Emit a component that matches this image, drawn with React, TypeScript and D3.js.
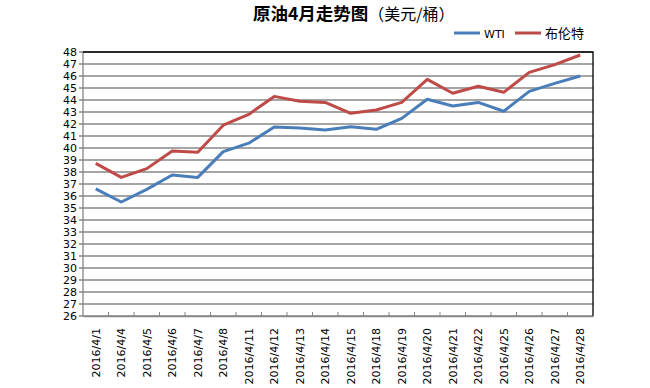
import { useEffect, useRef } from "react";
import * as d3 from "d3";

const dates = [
  "2016/4/1", "2016/4/4", "2016/4/5", "2016/4/6", "2016/4/7", "2016/4/8",
  "2016/4/11", "2016/4/12", "2016/4/13", "2016/4/14", "2016/4/15", "2016/4/18",
  "2016/4/19", "2016/4/20", "2016/4/21", "2016/4/22", "2016/4/25", "2016/4/26",
  "2016/4/27", "2016/4/28",
];
const wti = [
  36.6, 35.5, 36.55, 37.75, 37.55, 39.7, 40.4, 41.75, 41.67, 41.5,
  41.78, 41.56, 42.47, 44.06, 43.5, 43.8, 43.06, 44.72, 45.39, 46.0,
];
const brent = [
  38.72, 37.55, 38.28, 39.75, 39.64, 41.9, 42.8, 44.3, 43.9, 43.8,
  42.89, 43.17, 43.8, 45.72, 44.56, 45.14, 44.64, 46.3, 46.95, 47.75,
];
const yTicks = d3.range(26, 49);

const W = 650;
const H = 388;
const m = { left: 83, right: 57, top: 52, bottom: 72 };

const App = () => {
  const svgRef = useRef(null);

  useEffect(() => {
    const svg = d3.select(svgRef.current);
    svg.selectAll("*").remove();

    const x = d3.scaleBand().domain(dates).range([m.left, W - m.right]);
    const y = d3.scaleLinear().domain([26, 48]).range([H - m.bottom, m.top]);
    const font = "'DejaVu Sans', sans-serif";
    const cjk = "'Noto Sans CJK SC', sans-serif";

    // gridlines
    svg
      .append("g")
      .selectAll("line")
      .data(yTicks)
      .enter()
      .append("line")
      .attr("x1", m.left - 4)
      .attr("x2", W - m.right)
      .attr("y1", (d) => y(d))
      .attr("y2", (d) => y(d))
      .attr("stroke", "#878787")
      .attr("stroke-width", 1.3);

    // y axis labels
    svg
      .append("g")
      .selectAll("text")
      .data(yTicks)
      .enter()
      .append("text")
      .attr("x", m.left - 6)
      .attr("y", (d) => y(d) + 4)
      .attr("text-anchor", "end")
      .attr("font-family", font)
      .attr("font-size", 11)
      .attr("fill", "#000")
      .text((d) => d);

    // left axis
    svg
      .append("line")
      .attr("x1", m.left).attr("x2", m.left)
      .attr("y1", m.top).attr("y2", H - m.bottom)
      .attr("stroke", "#878787").attr("stroke-width", 1.3);

    // top & right border
    svg
      .append("path")
      .attr("d", `M${m.left},${m.top}H${W - m.right}V${H - m.bottom}`)
      .attr("fill", "none")
      .attr("stroke", "#000")
      .attr("stroke-width", 1.3);

    // bottom axis
    const xAxis = d3.axisBottom(x).tickSize(0).tickFormat(() => "");
    svg
      .append("g")
      .attr("transform", `translate(0, ${H - m.bottom})`)
      .call(xAxis)
      .call((g) => g.select(".domain").attr("stroke", "#878787").attr("stroke-width", 1.3));

    svg
      .append("g")
      .selectAll("line")
      .data(dates.slice(1))
      .enter()
      .append("line")
      .attr("x1", (d) => x(d))
      .attr("x2", (d) => x(d))
      .attr("y1", H - m.bottom)
      .attr("y2", H - m.bottom - 4)
      .attr("stroke", "#878787");

    svg
      .append("g")
      .selectAll("text")
      .data(dates)
      .enter()
      .append("text")
      .attr("transform", (d) => `translate(${x(d) + x.bandwidth() / 2 + 4}, ${H - m.bottom + 12}) rotate(-90)`)
      .attr("text-anchor", "end")
      .attr("font-family", font)
      .attr("font-size", 11)
      .attr("fill", "#000")
      .text((d) => d);

    const line = d3
      .line<number>()
      .x((d, i) => x(dates[i]) + x.bandwidth() / 2)
      .y((d) => y(d));

    svg.append("path").datum(wti).attr("d", line).attr("fill", "none")
      .attr("stroke", "#4a7ebb").attr("stroke-width", 3).attr("stroke-linejoin", "round");
    svg.append("path").datum(brent).attr("d", line).attr("fill", "none")
      .attr("stroke", "#be4b48").attr("stroke-width", 3).attr("stroke-linejoin", "round");

    // title
    const title = svg.append("text").attr("x", 253).attr("y", 20)
      .attr("font-family", cjk).attr("fill", "#000");
    title.append("tspan").attr("font-size", 17.5).attr("font-weight", "bold").text("原油4月走势图");
    title.append("tspan").attr("font-size", 16).text("（美元/桶）");

    // legend
    const legend = [
      { name: "WTI", color: "#4a7ebb", x: 454 },
      { name: "布伦特", color: "#be4b48", x: 515 },
    ];
    legend.forEach((l) => {
      svg.append("line").attr("x1", l.x).attr("x2", l.x + 26).attr("y1", 33).attr("y2", 33)
        .attr("stroke", l.color).attr("stroke-width", 3);
      svg.append("text").attr("x", l.x + 30).attr("y", 38)
        .attr("font-family", l.name === "WTI" ? font : cjk)
        .attr("font-size", l.name === "WTI" ? 11 : 13)
        .attr("fill", "#000").text(l.name);
    });
  }, []);

  return (
    <svg ref={svgRef} width={W} height={H} style={{ position: "absolute", left: 0, top: 0, background: "#fff" }}></svg>
  );
};

export default App;
